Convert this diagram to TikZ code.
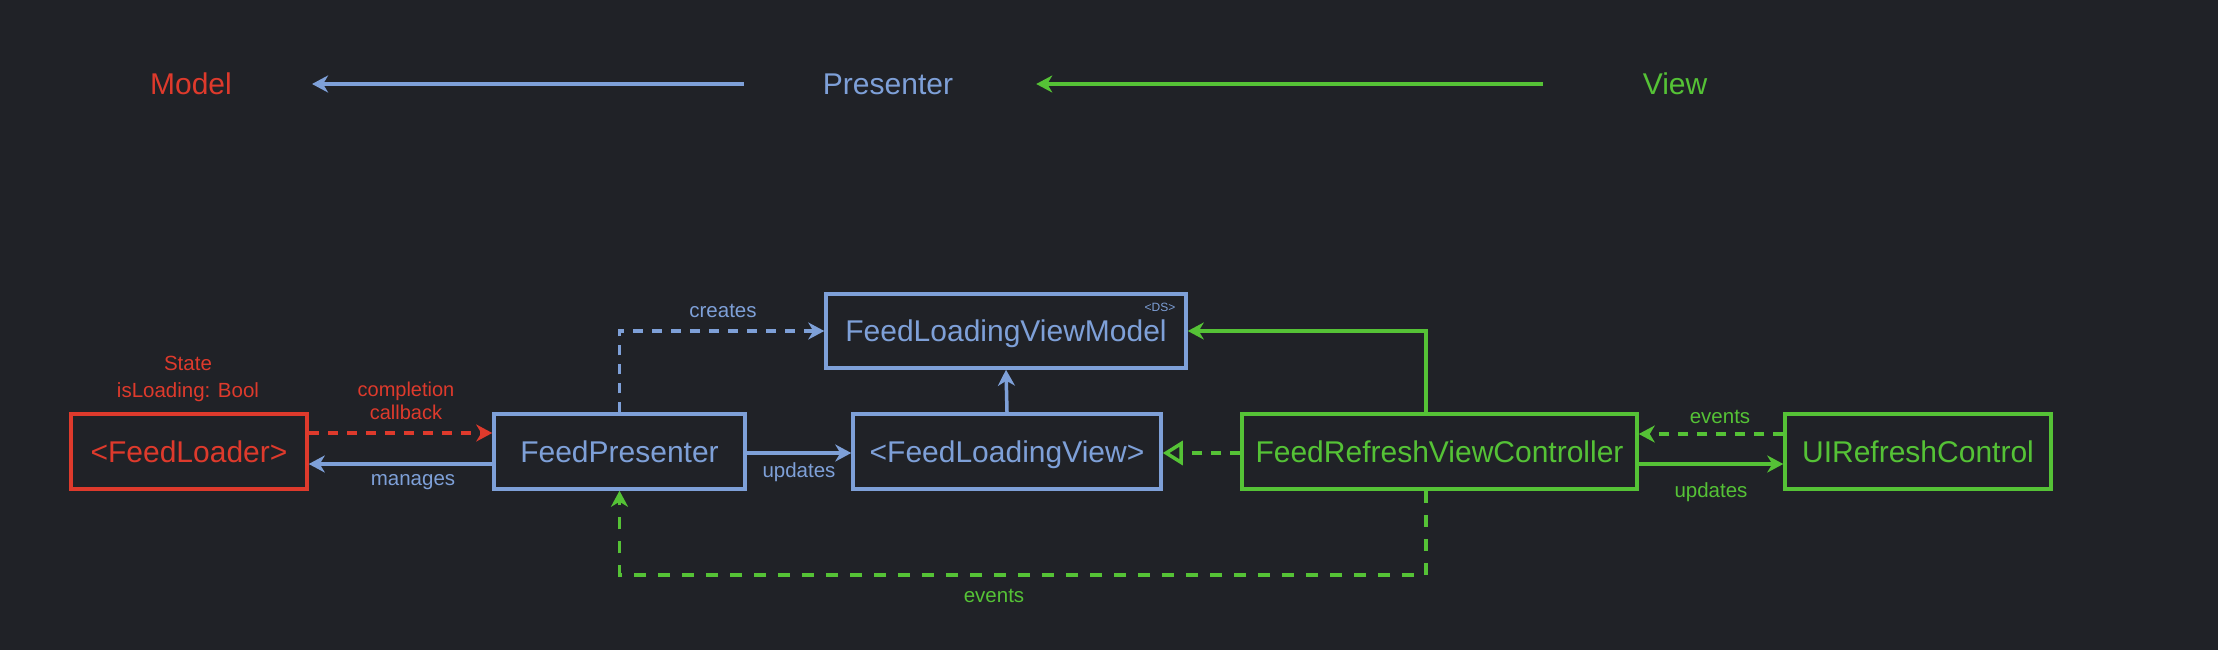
\documentclass[tikz,border=0pt]{standalone}
\usepackage{fontspec}
\setmainfont{Liberation Sans}
\usetikzlibrary{arrows.meta}
\definecolor{bg}{HTML}{202227}
\definecolor{cred}{HTML}{DE3A2C}
\definecolor{cblue}{HTML}{7EA0D8}
\definecolor{cgreen}{HTML}{55C236}
\tikzset{
  big/.style={font=\fontsize{30}{36}\selectfont, inner sep=0pt, text height=21.5pt, text depth=0pt},
  small/.style={font=\fontsize{20.5}{25}\selectfont, inner sep=0pt},
  box/.style={draw, line width=3.5pt, minimum height=75pt, font=\fontsize{30}{36}\selectfont, inner sep=0pt, text height=21.5pt, text depth=0pt},
  tip/.style={-{Stealth[length=16pt,width=17pt,inset=5pt]}},
  con/.style={line width=3.5pt, tip},
  dsh/.style={line width=3.5pt, dash pattern=on 10pt off 9pt, tip},
}
\begin{document}
\begin{tikzpicture}[x=1pt,y=-1pt]
\fill[bg] (0,0) rectangle (2218,650);
\useasboundingbox (0,0) rectangle (2218,650);

% header
\node[big, text=cred] (model) at (191,84) {Model};
\node[big, text=cblue] (presT) at (888,84) {Presenter};
\node[big, text=cgreen] (viewT) at (1675,84) {View};
\draw[con, cblue] ([xshift=-79pt]presT.west) -- ([xshift=80pt]model.east);
\draw[con, cgreen] ([xshift=-100pt]viewT.west) -- ([xshift=83pt]presT.east);

% boxes
\node[box, draw=cred, text=cred, minimum width=236pt] (loader) at (189,451.5) {<FeedLoader>};
\node[box, draw=cblue, text=cblue, minimum width=251pt] (presenter) at (619.5,451.5) {FeedPresenter};
\node[box, draw=cblue, text=cblue, minimum width=308pt] (flv) at (1007,451.5) {<FeedLoadingView>};
\node[box, draw=cblue, text=cblue, minimum width=360pt, minimum height=74pt] (flvm) at (1006,331) {FeedLoadingViewModel};
\node[box, draw=cgreen, text=cgreen, minimum width=395pt] (frvc) at (1439.5,451.5) {FeedRefreshViewController};
\node[box, draw=cgreen, text=cgreen, minimum width=266pt] (uirc) at (1918,451.5) {UIRefreshControl};
\node[font=\fontsize{12}{14}\selectfont, inner sep=0pt, text=cblue] (ds) at (1160,307) {<DS>};

% labels
\node[small, text=cred, align=center, font=\fontsize{20.5}{27}\selectfont] (state) at (188,379) {State\\isLoading: Bool};
\node[small, text=cred, align=center, font=\fontsize{20}{23}\selectfont] (ccb) at (406,401) {completion\\callback};
\node[small, text=cblue] (lman) at (413,482) {manages};
\node[small, text=cblue] (lcre) at (723,311) {creates};
\node[small, text=cblue] (lupd) at (799,472) {updates};
\node[small, text=cgreen] (lev1) at (1720,417) {events};
\node[small, text=cgreen] (lupd2) at (1711,492) {updates};
\node[small, text=cgreen] (lev2) at (994,596) {events};

% connectors
\draw[dsh, cred] ([yshift=18.5pt]loader.east) -- ([yshift=18.5pt]presenter.west);
\draw[con, cblue] ([yshift=-12.5pt]presenter.west) -- ([yshift=-12.5pt]loader.east);
\draw[dsh, cblue] (presenter.north) |- (flvm.west);
\draw[con, cblue] ([yshift=-1.5pt]presenter.east) -- ([yshift=-1.5pt]flv.west);
\draw[con, cblue] (flv.north) -- (flvm.south);
\draw[line width=3.5pt, cgreen, dash pattern=on 10pt off 9pt, -{Triangle[open,length=20pt,width=24pt]}] ([yshift=-1.5pt]frvc.west) -- ([yshift=-1.5pt]flv.east);
\draw[con, cgreen] ([xshift=-13.5pt]frvc.north) |- (flvm.east);
\draw[dsh, cgreen] ([yshift=17.5pt]uirc.west) -- ([yshift=17.5pt]frvc.east);
\draw[con, cgreen] ([yshift=-12.5pt]frvc.east) -- ([yshift=-12.5pt]uirc.west);
\draw[dsh, cgreen, dash pattern=on 12pt off 12pt] ([xshift=-13.5pt]frvc.south) -- ++(0,84) -| (presenter.south);
\end{tikzpicture}
\end{document}
